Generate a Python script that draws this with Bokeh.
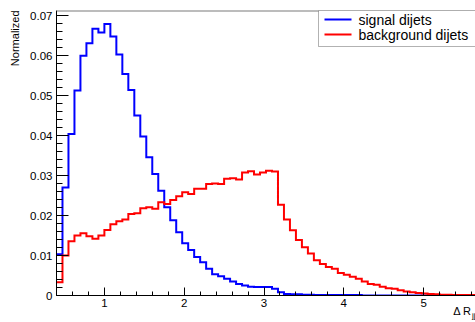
import math
from bokeh.plotting import figure
from bokeh.models import FixedTicker, Label, Span, Range1d, BoxAnnotation, Title
from bokeh.embed import file_html
from bokeh.resources import INLINE

# ---- data -------------------------------------------------------------
bin_start = 0.4
bin_width = 0.075

signal = [0.0103, 0.0270, 0.0404, 0.0513, 0.0600, 0.0631, 0.0667, 0.0658, 0.0679, 0.0648,
          0.0603, 0.0554, 0.0514, 0.0450, 0.0398, 0.0346, 0.0304, 0.0262, 0.0221, 0.0188,
          0.0158, 0.0131, 0.0114, 0.0096, 0.0083, 0.0067, 0.0053, 0.0048, 0.0042, 0.0035,
          0.0029, 0.0025, 0.0022, 0.0021, 0.0021, 0.0021, 0.0017, 0.0008, 0.0004, 0.0003,
          0.0003, 0.0002, 0.0002, 0.0001, 0.0001, 0.0001, 0.0001, 0.0001, 0.0001, 0.0001,
          0.0001, 0.0, 0.0, 0.0, 0.0, 0.0, 0.0, 0.0, 0.0, 0.0,
          0.0, 0.0, 0.0, 0.0, 0.0, 0.0, 0.0, 0.0, 0.0, 0.0]

background = [0.0033, 0.0100, 0.0136, 0.0150, 0.0156, 0.0148, 0.0142, 0.0150, 0.0164, 0.0178,
              0.0186, 0.0190, 0.0204, 0.0206, 0.0218, 0.0221, 0.0217, 0.0233, 0.0229, 0.0239,
              0.0248, 0.0258, 0.0254, 0.0267, 0.0267, 0.0279, 0.0280, 0.0279, 0.0292, 0.0293,
              0.0290, 0.0308, 0.0311, 0.0303, 0.0308, 0.0312, 0.0310, 0.0227, 0.0190, 0.0163,
              0.0139, 0.0121, 0.0105, 0.0088, 0.0079, 0.0071, 0.0067, 0.0056, 0.0052, 0.0047,
              0.0042, 0.0035, 0.0029, 0.0027, 0.0022, 0.0018, 0.0017, 0.0013, 0.0010, 0.0008,
              0.0006, 0.0005, 0.0004, 0.0003, 0.0002, 0.0002, 0.0001, 0.0001, 0.0001, 0.0001]

series_names = ["signal dijets", "background dijets"]
series_colors = ["#0000ff", "#ff0000"]

x_ticks = [1, 2, 3, 4, 5]
x_tick_labels = ["1", "2", "3", "4", "5"]
y_ticks = [0, 0.01, 0.02, 0.03, 0.04, 0.05, 0.06, 0.07]
y_tick_labels = ["0", "0.01", "0.02", "0.03", "0.04", "0.05", "0.06", "0.07"]

x_title = "\u0394 R"
x_title_sub = "jj"
y_title = "Normalized"

# ---- derived ----------------------------------------------------------
n_bins = len(signal)
edges = [bin_start + bin_width * i for i in range(n_bins + 1)]
y_max = 1.05 * max(max(signal), max(background))

FONT = "Liberation Sans"
FRAME_H = 285  # frame height in px (used for screen-unit annotation placement)

p = figure(width=475, height=322, output_backend="svg", toolbar_location=None,
           x_range=Range1d(edges[0], edges[-1]), y_range=Range1d(0, y_max),
           min_border_left=56, min_border_right=0, min_border_top=10, min_border_bottom=27)
p.xgrid.visible = False
p.ygrid.visible = False
p.outline_line_color = None
p.background_fill_color = "white"
p.border_fill_color = "white"

r_sig = p.step(x=edges, y=signal + [signal[-1]], mode="after",
               line_color=series_colors[0], line_width=2, line_join="miter")
r_bkg = p.step(x=edges, y=background + [background[-1]], mode="after",
               line_color=series_colors[1], line_width=2, line_join="miter")

# frame top line
p.add_layout(Span(location=y_max, dimension="width", line_color="#7a7a7a", line_width=2))

# axes
x_minor = [round(0.4 + 0.2 * k, 3) for k in range(27)]
y_minor = [round(0.002 * k, 4) for k in range(36)]
p.xaxis.ticker = FixedTicker(ticks=x_ticks, minor_ticks=x_minor)
p.yaxis.ticker = FixedTicker(ticks=y_ticks, minor_ticks=y_minor)
p.xaxis.major_label_overrides = {t: l for t, l in zip(x_ticks, x_tick_labels)}
p.yaxis.major_label_overrides = {t: l for t, l in zip(y_ticks, y_tick_labels)}

for ax in (p.xaxis, p.yaxis):
    ax.axis_line_color = "black"
    ax.axis_line_width = 1
    ax.major_tick_line_color = "black"
    ax.minor_tick_line_color = "black"
    ax.major_tick_out = 0
    ax.minor_tick_out = 0
    ax.major_label_text_font = FONT
    ax.major_label_text_font_size = "11.5px"
    ax.major_label_text_color = "black"

p.xaxis.major_tick_in = 8
p.xaxis.minor_tick_in = 4
p.xaxis.major_label_standoff = 3
p.yaxis.major_tick_in = 12
p.yaxis.minor_tick_in = 6
p.yaxis.major_label_standoff = 4

# y axis title, at the top end of the axis
p.add_layout(Title(text=y_title, align="right", offset=0, standoff=13,
                   text_font=FONT, text_font_size="11px", text_font_style="normal",
                   text_color="black"), "left")

# x axis title at the right end of the axis, with its subscript
p.add_layout(Title(text=x_title, align="right", offset=4, standoff=-10,
                   vertical_align="top",
                   text_font=FONT, text_font_size="11px", text_font_style="normal",
                   text_color="black"), "below")
p.add_layout(Title(text=x_title_sub, align="right", offset=0, standoff=-6,
                   vertical_align="top",
                   text_font=FONT, text_font_size="8px", text_font_style="normal",
                   text_color="black"), "below")

# legend (box, line samples, labels) in screen px relative to the frame
leg_left, leg_right, leg_top, leg_bottom = 262, 480, FRAME_H, FRAME_H - 36
p.add_layout(BoxAnnotation(left=leg_left, right=leg_right, top=leg_top, bottom=leg_bottom,
                           left_units="screen", right_units="screen",
                           top_units="screen", bottom_units="screen",
                           fill_color="white", fill_alpha=1,
                           line_color="black", line_width=1, level="overlay"))
row_y = [FRAME_H - 9, FRAME_H - 24]
for name, color, ry in zip(series_names, series_colors, row_y):
    p.add_layout(BoxAnnotation(left=268, right=295, top=ry + 1, bottom=ry - 1,
                               left_units="screen", right_units="screen",
                               top_units="screen", bottom_units="screen",
                               fill_color=color, fill_alpha=1, line_color=None,
                               level="overlay"))
    p.add_layout(Label(x=302, y=ry, x_units="screen", y_units="screen", text=name,
                       text_align="left", text_baseline="middle", level="overlay",
                       text_font=FONT, text_font_size="14px", text_color="black"))

open("out.html", "w").write(file_html(p, INLINE))
